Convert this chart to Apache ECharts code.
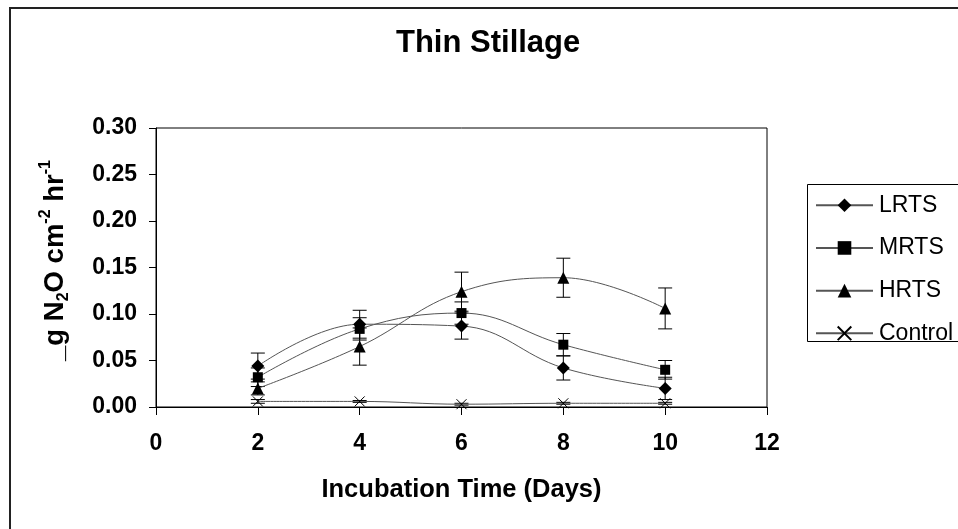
<!DOCTYPE html>
<html><head><meta charset="utf-8">
<script src="https://cdn.jsdelivr.net/npm/echarts@6/dist/echarts.min.js"></script>
<style>html,body{margin:0;padding:0;background:#fff}#c{width:958px;height:529px}</style>
</head><body><div id="c"></div>
<script>
// ---- data ----
const days = [2, 4, 6, 8, 10];
const seriesNames = ['LRTS', 'MRTS', 'HRTS', 'Control'];
const lrts = [0.044, 0.089, 0.087, 0.042, 0.020];
const mrts = [0.032, 0.084, 0.101, 0.067, 0.040];
const hrts = [0.020, 0.065, 0.124, 0.139, 0.106];
const control = [0.006, 0.006, 0.003, 0.004, 0.004];
const lrtsErr = [0.014, 0.015, 0.014, 0.013, 0.012];
const mrtsErr = [0.010, 0.012, 0.012, 0.012, 0.010];
const hrtsErr = [0.007, 0.020, 0.021, 0.021, 0.022];
const controlErr = [0.002, 0.001, 0.001, 0.001, 0.001];
const xTicks = [0, 2, 4, 6, 8, 10, 12];
const yTicks = [0, 0.05, 0.10, 0.15, 0.20, 0.25, 0.30];
const titleText = 'Thin Stillage';
const xTitle = 'Incubation Time (Days)';

const FONT = '"Liberation Sans", Arial, sans-serif';
const values = [lrts, mrts, hrts, control];
const errs = [lrtsErr, mrtsErr, hrtsErr, controlErr];
const symbols = ['diamond', 'rect', 'triangle', 'path://M0,0L10,10M10,0L0,10'];
const symbolSizes = [[13, 13], 10, [12, 12], 10];

function errRenderer(params, api) {
  const x = api.value(0), lo = api.value(1), hi = api.value(2);
  const top = api.coord([x, hi]), bot = api.coord([x, lo]);
  const hw = 7;
  const st = { stroke: '#000', lineWidth: 1 };
  return { type: 'group', children: [
    { type: 'line', shape: { x1: top[0], y1: top[1], x2: bot[0], y2: bot[1] }, style: st },
    { type: 'line', shape: { x1: top[0] - hw, y1: top[1], x2: top[0] + hw, y2: top[1] }, style: st },
    { type: 'line', shape: { x1: bot[0] - hw, y1: bot[1], x2: bot[0] + hw, y2: bot[1] }, style: st }
  ]};
}

const series = [];
seriesNames.forEach((name, i) => {
  series.push({
    name: name + ' err', type: 'custom', renderItem: errRenderer, z: 1,
    data: days.map((d, j) => [d, values[i][j] - errs[i][j], values[i][j] + errs[i][j]]),
    silent: true
  });
});
seriesNames.forEach((name, i) => {
  series.push({
    name: name, type: 'line', z: 3, smooth: 0.4,
    data: days.map((d, j) => [d, values[i][j]]),
    symbol: symbols[i], symbolSize: symbolSizes[i], showAllSymbol: true,
    lineStyle: { color: '#555', width: 1 },
    itemStyle: i === 3 ? { color: '#000', borderColor: '#000', borderWidth: 1 } : { color: '#000', borderWidth: 0 },
    emphasis: { disabled: true }
  });
});

const chart = echarts.init(document.getElementById('c'));
chart.setOption({
  animation: false,
  backgroundColor: '#fff',
  title: { text: titleText, left: 396, top: 28, padding: 0,
    textStyle: { fontFamily: FONT, fontSize: 31, fontWeight: 'bold', color: '#000' } },
  graphic: [
    { type: 'rect', shape: { x: 10, y: 8, width: 1000, height: 600 }, style: { fill: 'none', stroke: '#222', lineWidth: 2 }, silent: true },
    { type: 'rect', shape: { x: 807.5, y: 184.5, width: 200, height: 157 }, style: { fill: 'none', stroke: '#000', lineWidth: 1 }, silent: true }
  ],
  legend: {
    data: seriesNames, orient: 'vertical', left: 815, top: 192, padding: 0,
    itemWidth: 57, itemHeight: 17, itemGap: 16.2, selectedMode: false,
    textStyle: { fontFamily: FONT, fontSize: 23, color: '#000', lineHeight: 26.5, padding: [0, 0, 0, 1] }
  },
  grid: { left: 156, top: 128, width: 611, height: 279, show: true, borderColor: '#000', borderWidth: 1, containLabel: false },
  xAxis: {
    type: 'value', min: xTicks[0], max: xTicks[xTicks.length - 1], interval: 2,
    name: xTitle, nameLocation: 'middle', nameGap: 70,
    nameTextStyle: { fontFamily: FONT, fontSize: 25.5, fontWeight: 'bold', color: '#000' },
    axisLine: { show: true, onZero: false, lineStyle: { color: '#000', width: 1 } },
    axisTick: { show: true, inside: false, length: 8, lineStyle: { color: '#000' } },
    axisLabel: { margin: 25, fontFamily: FONT, fontSize: 23, fontWeight: 'bold', color: '#000' },
    splitLine: { show: false }
  },
  yAxis: {
    type: 'value', min: yTicks[0], max: yTicks[yTicks.length - 1], interval: 0.05,
    name: '{m|_g N}{sub|2}{m|O cm}{sup|-2}{m| hr}{sup|-1}', nameLocation: 'middle', nameGap: 84, nameRotate: 90,
    nameTextStyle: {
      padding: [0, 0, 0, 14],
      rich: {
        m: { fontFamily: FONT, fontSize: 27.5, fontWeight: 'bold', color: '#000', lineHeight: 34 },
        sub: { fontFamily: FONT, fontSize: 16, fontWeight: 'bold', color: '#000', verticalAlign: 'bottom', lineHeight: 18 },
        sup: { fontFamily: FONT, fontSize: 16, fontWeight: 'bold', color: '#000', verticalAlign: 'top', lineHeight: 18 }
      }
    },
    axisLine: { show: true, lineStyle: { color: '#000', width: 1 } },
    axisTick: { show: true, inside: false, length: 7, lineStyle: { color: '#000' } },
    axisLabel: { margin: 19, fontFamily: FONT, fontSize: 23, fontWeight: 'bold', color: '#000',
      formatter: v => v.toFixed(2) },
    splitLine: { show: false }
  },
  series: series
});
</script>
</body></html>
